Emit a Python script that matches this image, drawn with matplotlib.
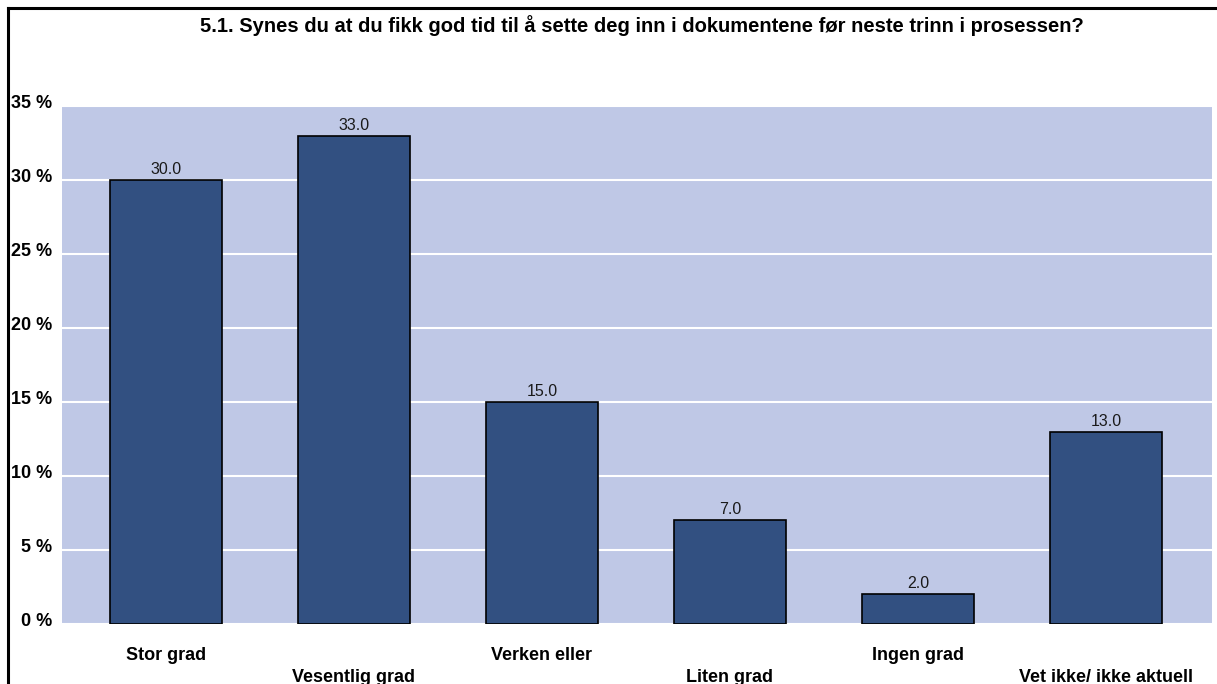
import matplotlib
matplotlib.use("Agg")
import matplotlib.pyplot as plt
import matplotlib.transforms as mtransforms
from matplotlib.lines import Line2D

categories = ["Stor grad", "Vesentlig grad", "Verken eller", "Liten grad",
              "Ingen grad", "Vet ikke/ ikke aktuell"]
values = [30.0, 33.0, 15.0, 7.0, 2.0, 13.0]
yticks = [0, 5, 10, 15, 20, 25, 30, 35]
title = "5.1. Synes du at du fikk god tid til å sette deg inn i dokumentene før neste trinn i prosessen?"

plt.rcParams['font.family'] = ['Liberation Sans', 'DejaVu Sans']

W, H = 1217, 684
fig = plt.figure(figsize=(W / 100, H / 100), dpi=100)

# plot area in pixels: left 62, right 1212, top 106, bottom 624
ax = fig.add_axes([62 / W, 1 - 624 / H, (1212 - 62) / W, (624 - 106) / H])
ax.set_facecolor("#BFC8E6")

x = list(range(len(categories)))
ax.bar(x, values, width=0.596, color="#325081", edgecolor="black", linewidth=1.2, zorder=3)

for xi, v in zip(x, values):
    ax.annotate(f"{v:.1f}", xy=(xi, v), xytext=(0, 3), textcoords="offset pixels",
                ha="center", va="bottom", fontsize=11.5, color="#1a1a1a", zorder=4)

ax.set_xlim(-0.553, 5.564)
ax.set_ylim(0, 35)
ax.set_yticks(yticks)
ax.set_yticklabels([f"{t} %" for t in yticks], fontsize=13, fontweight="bold")
ax.yaxis.grid(True, color="white", linewidth=1.5, zorder=1)
ax.set_axisbelow(True)
ax.tick_params(axis="y", length=0, pad=7)
ax.tick_params(axis="x", length=0)
ax.set_xticks([])
shift = mtransforms.ScaledTranslation(0, 5 / 100, fig.dpi_scale_trans)
for lbl in ax.get_yticklabels():
    lbl.set_transform(lbl.get_transform() + shift)

for xi, c in zip(x, categories):
    dy = 31 if xi % 2 == 0 else 53
    ax.annotate(c, xy=(xi, 0), xytext=(0, -dy), textcoords="offset pixels",
                ha="center", va="center", fontsize=13, fontweight="bold",
                annotation_clip=False)

for s in ax.spines.values():
    s.set_visible(False)

fig.text(642 / W, 1 - 26 / H, title, ha="center", va="center",
         fontsize=14.5, fontweight="bold")

# outer frame (left and top edges visible)
fig.add_artist(Line2D([7.5 / W, 7.5 / W], [0, 1 - 7.5 / H], transform=fig.transFigure,
                      color="black", linewidth=2.2))
fig.add_artist(Line2D([7.5 / W, 1], [1 - 7.5 / H, 1 - 7.5 / H], transform=fig.transFigure,
                      color="black", linewidth=2.2))

fig.savefig("out.png", dpi=100)
